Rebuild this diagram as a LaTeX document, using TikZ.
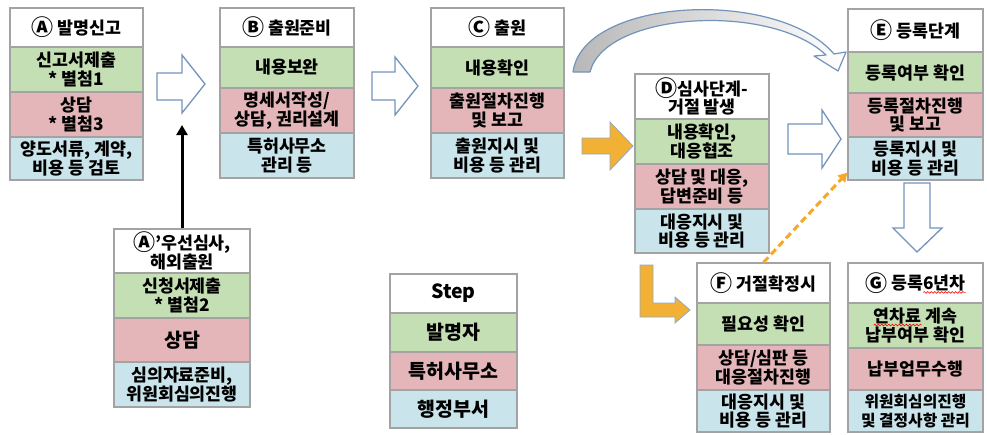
\documentclass[tikz,border=0pt]{standalone}
\usepackage{fontspec}
\setmainfont{Noto Sans CJK KR}
\newcommand\cl[1]{\raisebox{-1.3pt}{\fontsize{22}{18}\selectfont #1}}
\usetikzlibrary{decorations.pathmorphing, arrows.meta}
\definecolor{bgrn}{HTML}{C5DFB4}
\definecolor{bpnk}{HTML}{E5B6B9}
\definecolor{bcyn}{HTML}{C9E5EB}
\definecolor{bline}{HTML}{A3A3A3}
\definecolor{ablue}{HTML}{7393BA}
\definecolor{aorng}{HTML}{F2B134}
\definecolor{dorng}{HTML}{F5A829}
\tikzset{
  cell/.style={draw=bline, line width=1.2pt, inner sep=0pt, align=center,
    font=\fontsize{17.3}{18.8}\selectfont\bfseries},
  hdr/.style={cell, fill=white},
  grn/.style={cell, fill=bgrn},
  pnk/.style={cell, fill=bpnk},
  cyn/.style={cell, fill=bcyn},
  big/.style={font=\fontsize{19.5}{21}\selectfont\bfseries},
  snug/.style={font=\fontsize{15.8}{18.8}\selectfont\bfseries},
  hollow/.style={draw=ablue, fill=white, line width=1.3pt, line join=miter},
  orng/.style={draw=ablue!80, fill=aorng, line width=0.8pt, line join=miter},
  wavy/.style={draw=red, line width=0.6pt, decorate, decoration={snake, amplitude=0.9pt, segment length=3.5pt}}
}
\newcommand\wv[1]{\tikz[baseline=(w.base),x=1cm,y=1cm]{\node[inner sep=0pt,outer sep=0pt,
  minimum width=0pt,minimum height=0pt,draw=none,fill=none,align=left](w){#1};
  \draw[wavy] ([yshift=-2.5pt]w.base west) -- ([yshift=-2.5pt]w.base east);}}
\begin{document}
\begin{tikzpicture}[x=1pt,y=-1pt]
\useasboundingbox (0,0) rectangle (987,434);
% Box A
\node[hdr, minimum width=133, minimum height=39] (aH) at (76.5,27.5) {\cl{Ⓐ} 발명신고};
\node[grn, minimum width=133, minimum height=45] (aG) at (76.5,69.5) {신고서제출\\* 별첨1};
\node[pnk, minimum width=133, minimum height=45] (aP) at (76.5,114.5) {상담\\* 별첨3};
\node[cyn, minimum width=133, minimum height=43] (aC) at (76.5,158.5) {양도서류, 계약,\\비용 등 검토};
% Box B
\node[hdr, minimum width=134, minimum height=39] (bH) at (287,27.5) {\cl{Ⓑ} 출원준비};
\node[grn, minimum width=134, minimum height=41] (bG) at (287,67.5) {내용보완};
\node[pnk, minimum width=134, minimum height=45] (bP) at (287,110.5) {명세서작성/\\상담, 권리설계};
\node[cyn, minimum width=134, minimum height=45] (bC) at (287,155.5) {특허사무소\\관리 등};
% Box C
\node[hdr, minimum width=133, minimum height=39] (cH) at (497.5,27.5) {\cl{Ⓒ} 출원};
\node[grn, minimum width=133, minimum height=41] (cG) at (497.5,67.5) {내용확인};
\node[pnk, minimum width=133, minimum height=45] (cP) at (497.5,110.5) {출원절차진행\\및 보고};
\node[cyn, minimum width=133, minimum height=45] (cC) at (497.5,155.5) {출원지시 및\\비용 등 관리};
% Box D
\node[hdr, minimum width=134, minimum height=45] (dH) at (702,96.5) {\cl{Ⓓ}심사단계-\\거절 발생};
\node[grn, minimum width=134, minimum height=45] (dG) at (702,141.5) {내용확인,\\대응협조};
\node[pnk, minimum width=134, minimum height=45] (dP) at (702,186.5) {상담 및 대응,\\답변준비 등};
\node[cyn, minimum width=134, minimum height=44] (dC) at (702,231) {대응지시 및\\비용 등 관리};
% Box E
\node[hdr, minimum width=135, minimum height=43] (eH) at (915.5,30.5) {\cl{Ⓔ} 등록단계};
\node[grn, minimum width=135, minimum height=41] (eG) at (915.5,72.5) {등록여부 확인};
\node[pnk, minimum width=135, minimum height=44] (eP) at (915.5,115) {등록절차진행\\및 보고};
\node[cyn, minimum width=135, minimum height=43] (eC) at (915.5,158.5) {등록지시 및\\비용 등 관리};
% Box A'
\node[hdr, minimum width=136, minimum height=44] (apH) at (182,251) {\cl{Ⓐ}'우선심사,\\해외출원};
\node[grn, minimum width=136, minimum height=45] (apG) at (182,295.5) {신청서제출\\* 별첨2};
\node[pnk, big, minimum width=136, minimum height=44] (apP) at (182,340) {상담};
\node[cyn, minimum width=136, minimum height=45] (apC) at (182,384.5) {심의자료준비,\\위원회심의진행};
% Step legend
\node[hdr, big, minimum width=127, minimum height=39] (sH) at (453.5,293.5) {Step};
\node[grn, big, minimum width=127, minimum height=39] (sG) at (453.5,332.5) {발명자};
\node[pnk, big, minimum width=127, minimum height=38] (sP) at (453.5,371) {특허사무소};
\node[cyn, big, minimum width=127, minimum height=38] (sC) at (453.5,409) {행정부서};
% Box F
\node[hdr, minimum width=133, minimum height=40] (fH) at (763.5,283) {\cl{Ⓕ} 거절확정시};
\node[grn, minimum width=133, minimum height=42] (fG) at (763.5,324) {필요성 확인};
\node[pnk, minimum width=133, minimum height=45] (fP) at (763.5,367.5) {상담/심판 등\\대응절차진행};
\node[cyn, minimum width=133, minimum height=42] (fC) at (763.5,411) {대응지시 및\\비용 등 관리};
% Box G
\node[hdr, minimum width=135, minimum height=40] (gH) at (915.5,283) {\cl{Ⓖ} 등록\wv{6년차}};
\node[grn, minimum width=135, minimum height=45] (gG) at (915.5,325.5) {\wv{연차료} 계속\\납부여부 확인};
\node[pnk, minimum width=135, minimum height=42] (gP) at (915.5,369) {납부업무수행};
\node[cyn, snug, minimum width=135, minimum height=42] (gC) at (915.5,411) {위원회심의진행\\및 결정사항 관리};

% hollow block arrows
\draw[hollow] (157,73) -- (182,73) -- (182,55) -- (205,84) -- (182,113) -- (182,100) -- (157,100) -- cycle;
\draw[hollow] (372,72) -- (395,72) -- (395,57) -- (418,86) -- (395,115) -- (395,100) -- (372,100) -- cycle;
\draw[hollow] (788,124) -- (822,124) -- (822,110) -- (841,139) -- (822,168) -- (822,154) -- (788,154) -- cycle;
\draw[hollow] (904,183) -- (930,183) -- (930,228) -- (942,228) -- (917,252) -- (893,228) -- (904,228) -- cycle;

% curved arrow C -> E
\draw[draw=ablue, line width=1.2pt, line join=round, left color=black!28, right color=white]
  (573,72) .. controls (583,-3) and (778,-12) .. (834,54)
  -- (846,52) -- (838,71) -- (814,56) -- (826,55)
  .. controls (770,2) and (605,12) .. (590,72) -- cycle;

% orange arrows
\draw[orng] (582,138) -- (610,138) -- (610,122) -- (633,146) -- (610,170) -- (610,154) -- (582,154) -- cycle;
\draw[orng] (640,265) -- (653,265) -- (653,303) -- (675,303) -- (675,297) -- (690,310) -- (675,323) -- (675,317) -- (640,317) -- cycle;

% dashed orange connector F -> E
\draw[dorng, line width=3pt, dash pattern=on 7pt off 4pt, -{Triangle[length=9pt,width=10pt]}]
  (fH.north) -- ([yshift=8pt]eC.south west);

% black arrow A' -> A/B
\coordinate (blk) at (182,125);
\draw[black, line width=3pt, -{Triangle[length=10pt,width=11pt]}] (apH.north) -- (blk);
\end{tikzpicture}
\end{document}
